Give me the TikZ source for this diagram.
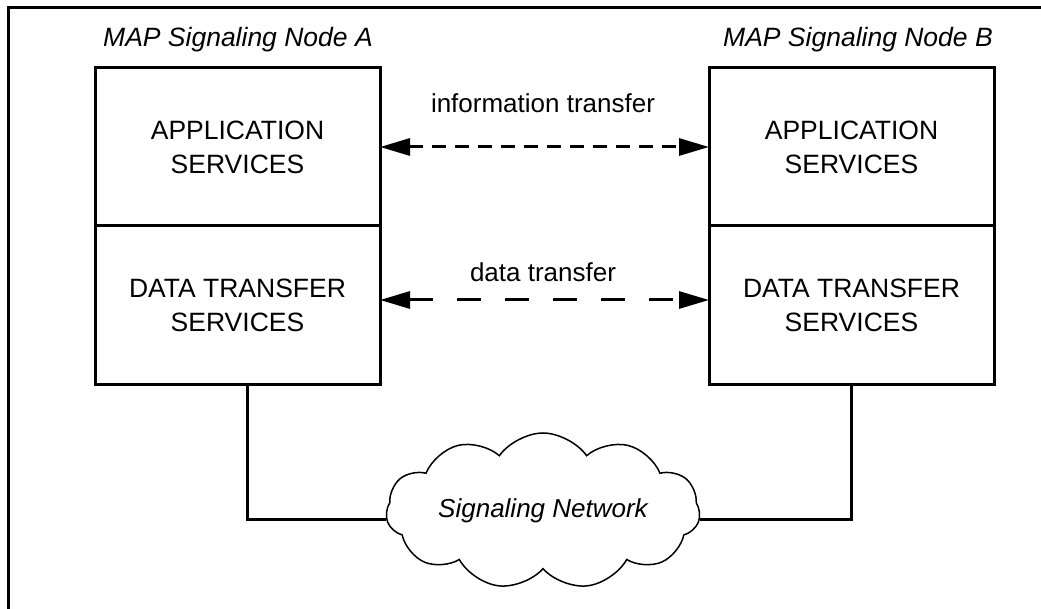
\documentclass[tikz,border=0pt]{standalone}
\usepackage{fontspec}
\setmainfont{Liberation Sans}
\usetikzlibrary{arrows.meta,positioning,shapes.symbols}

\tikzset{
  layer/.style={draw, line width=3pt, outer sep=0pt, minimum width=285pt, minimum height=158pt,
    inner sep=0pt, align=center, font=\fontsize{26.5}{34}\selectfont},
  title/.style={font=\fontsize{26.5}{30}\selectfont\itshape},
  tag/.style={font=\fontsize{26}{30}\selectfont},
  peer/.style={line width=3pt, {Triangle[length=30pt,width=17pt]}-{Triangle[length=30pt,width=17pt]}},
  wire/.style={line width=3pt}
}

\begin{document}
\begin{tikzpicture}[x=1pt,y=-1pt]
  \useasboundingbox (0,0) rectangle (1041,609);
  \clip (0,0) rectangle (1041,609);
  \draw[line width=3pt] (1060,8) -- (8,8) -- (8,620);

  \node[title] (titleA) at (238,40) {MAP Signaling Node A};
  \node[title] (titleB) at (858,40) {MAP Signaling Node B};

  \node[layer] (appA) at (237.5,147) {APPLICATION\\SERVICES};
  \node[layer, below=0pt of appA] (dataA) {DATA TRANSFER\\SERVICES};
  \node[layer] (appB) at (851.5,147) {APPLICATION\\SERVICES};
  \node[layer, below=0pt of appB] (dataB) {DATA TRANSFER\\SERVICES};

  \node[cloud, draw, line width=1.5pt, cloud puffs=11, cloud puff arc=110, cloud ignores aspect,
    minimum width=314pt, minimum height=156pt, inner sep=0pt] (net) at (543,511)
    {\fontsize{26}{30}\selectfont\itshape Signaling Network};

  \node[tag] (info) at (543,103) {information transfer};
  \node[tag] (data) at (543,272) {data transfer};

  \draw[peer, dash pattern=on 14pt off 9pt] (appA.east) -- (appB.west);
  \draw[peer, dash pattern=on 24pt off 24pt] ([yshift=5pt]dataA.east) -- ([yshift=5pt]dataB.west);

  \draw[wire] ([xshift=9.5pt]dataA.south) |- ([yshift=-8pt]net.west);
  \draw[wire] (dataB.south) |- ([yshift=-8pt]net.east);
\end{tikzpicture}
\end{document}
